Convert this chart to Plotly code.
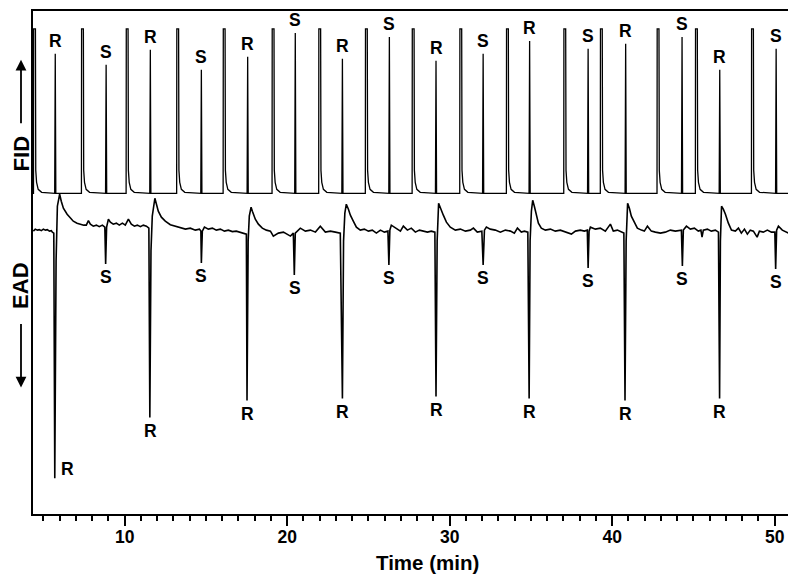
import plotly.graph_objects as go

# labelled peaks (enantiomers), retention time in min
rs_time = [5.73, 8.86, 11.58, 14.72, 17.57, 20.50, 23.40, 26.29,
           29.16, 32.06, 34.92, 38.52, 40.83, 44.30, 46.62, 50.09]
rs_label = ["R", "S"] * 8
# FID apex of each labelled peak and EAD minimum of its response (relative units)
fid_top = [462, 451, 466, 446, 459, 483, 457, 479,
           455, 462, 475, 467, 472, 479, 446, 467]
ead_bottom = [36, 251, 97, 252, 114, 240, 116, 250,
              118, 250, 116, 247, 114, 249, 116, 246]

# off-scale FID peaks of the other compounds
std_time = [4.39, 7.34, 10.09, 13.20, 16.06, 19.07, 21.94, 24.81,
            27.69, 30.62, 33.49, 37.02, 39.27, 42.76, 45.12, 48.57]
std_top = 487
std_tail_dt = [0.12, 0.14, 0.19, 0.29, 0.50]
std_tail_y = [487, 345, 333, 326, 323]
fid_base = 322

ead_time = [
    4.38, 4.50, 4.63, 4.75, 4.87, 5.00, 5.12, 5.24, 5.37, 5.49, 5.55,
    5.64, 5.70, 5.78, 5.86, 6.00, 6.10, 6.23, 6.46, 6.66, 6.84, 7.07, 7.27, 7.48,
    7.64, 7.77, 7.89, 8.07, 8.26, 8.44, 8.63, 8.78,
    8.83, 8.89, 9.00, 9.12, 9.30, 9.49, 9.67, 9.86, 10.04, 10.23, 10.41, 10.60, 10.78, 10.97, 11.15, 11.34, 11.49,
    11.55, 11.62, 11.70, 11.86, 11.95, 12.07, 12.26, 12.50, 12.81, 13.12, 13.43, 13.74, 14.04, 14.35, 14.60, 14.69,
    14.72, 14.78, 14.91, 15.15, 15.40, 15.64, 15.89, 16.14, 16.38, 16.63, 16.87, 17.12, 17.37, 17.49,
    17.53, 17.60, 17.67, 17.78, 17.86, 18.04, 18.23, 18.47, 18.72, 18.97, 19.15, 19.46, 19.77, 20.01, 20.20, 20.38,
    20.44, 20.50, 20.81, 21.12, 21.43, 21.74, 22.04, 22.35, 22.66, 22.97, 23.27,
    23.40, 23.47, 23.55, 23.64, 23.77, 23.89, 24.07, 24.26, 24.50, 24.75, 25.00, 25.24, 25.49, 25.74, 25.98, 26.20,
    26.26, 26.32, 26.41, 26.66, 26.97, 27.15, 27.40, 27.64, 27.89, 28.14, 28.38, 28.63, 28.87, 29.09,
    29.16, 29.23, 29.32, 29.43, 29.61, 29.80, 30.04, 30.35, 30.66, 30.97, 31.27, 31.46, 31.70, 31.98,
    32.06, 32.14, 32.26, 32.50, 32.81, 33.12, 33.43, 33.74, 33.98, 34.17, 34.41, 34.60, 34.81,
    34.89, 34.95, 35.03, 35.11, 35.21, 35.34, 35.46, 35.64, 35.89, 36.20, 36.50, 36.81, 37.12, 37.49, 37.74, 38.04, 38.29, 38.47,
    38.52, 38.58, 38.66, 38.97, 39.27, 39.58, 39.89, 40.07, 40.32, 40.57, 40.72,
    40.79, 40.86, 40.95, 41.06, 41.18, 41.37, 41.55, 41.80, 41.98, 42.17, 42.41, 42.66, 42.97, 43.27, 43.58, 43.89, 44.26,
    44.32, 44.38, 44.57, 44.81, 45.06, 45.30, 45.46, 45.53, 45.61, 45.86, 46.10, 46.35, 46.54,
    46.61, 46.66, 46.73, 46.84, 46.97, 47.15, 47.34, 47.58, 47.77, 47.95, 48.14, 48.32, 48.50, 48.69, 48.92, 49.06, 49.30, 49.55, 49.80, 50.01,
    50.06, 50.12, 50.23, 50.47, 50.66, 50.84,
]
ead_signal = [
    284, 286, 285, 285.5, 284.5, 286, 285, 285.5, 284, 284.5, 283,
    282, 36, 254, 309, 321, 314, 307, 301, 297, 294, 292, 291, 290,
    290, 294.5, 291, 289, 290, 288.5, 290, 288,
    251, 288, 296, 293, 291, 292, 290, 292, 290, 296, 291, 289, 290, 288.5, 290, 289, 287,
    97, 264, 299, 317, 311, 304, 298, 294, 290.5, 289, 287.5, 286, 287, 285, 286, 284,
    252, 284, 288, 286, 287, 285, 286, 284, 285, 283.5, 284, 283, 282, 281,
    114, 274, 299, 308, 304, 296, 291, 287, 285, 284, 279, 282, 283, 281, 279, 282,
    240, 282, 287, 284, 285, 283, 289, 283, 284, 283, 282,
    116, 274, 302, 311, 306, 300, 294, 288, 285, 286, 284, 285, 282, 285, 283, 284,
    250, 285, 290, 287, 284, 289, 285, 287, 283, 285, 284, 283, 284, 283,
    118, 274, 312, 307, 300, 293, 288, 285, 286, 284, 285, 287, 283, 284,
    250, 285, 288, 286, 285, 283, 285, 284, 282, 287, 283, 284, 283,
    116, 274, 304, 315, 309, 300, 292, 287, 285, 286, 284, 285, 283, 281, 284, 285, 284, 285,
    247, 284, 288, 286, 287, 284, 291, 284, 285, 283, 282,
    114, 274, 312, 307, 299, 292, 287, 285, 284, 289, 284, 283, 282, 283, 285, 284, 285,
    249, 285, 289, 286, 287, 284, 285, 278, 285, 286, 284, 285, 283,
    116, 274, 309, 306, 301, 292, 285, 284, 287, 282, 286, 281, 285, 284, 278, 284, 283, 285, 283, 283,
    246, 285, 289, 285, 283, 282,
]
assert len(ead_time) == len(ead_signal)

# build the FID trace from the peak tables
pts = [(4.36, fid_base)]
for t in std_time:
    pts.append((t, fid_base))
    pts.append((t + 0.01, std_top))
    for dt, v in zip(std_tail_dt, std_tail_y):
        pts.append((t + dt, v))
for t, top in zip(rs_time, fid_top):
    pts += [(t - 0.035, fid_base), (t, top), (t + 0.035, fid_base)]
pts.append((50.84, fid_base))
pts.sort()
fid_time = [p[0] for p in pts]
fid_signal = [p[1] for p in pts]

sans = "Liberation Sans, Arial, sans-serif"
lbl_font = dict(family=sans, size=17.5, color="black", weight="bold")

fig = go.Figure()
fig.add_trace(go.Scatter(x=fid_time, y=fid_signal, mode="lines",
                         line=dict(color="black", width=1.3), showlegend=False))
fig.add_trace(go.Scatter(x=ead_time, y=ead_signal, mode="lines",
                         line=dict(color="black", width=1.6), showlegend=False))

# R / S labels above the FID peaks and below the EAD responses
for t, lab, top in zip(rs_time, rs_label, fid_top):
    fig.add_annotation(x=t, y=top + 13, text=lab, showarrow=False, font=lbl_font,
                       xanchor="center", yanchor="middle")
for i, (t, lab, bot) in enumerate(zip(rs_time, rs_label, ead_bottom)):
    if i == 0:
        fig.add_annotation(x=t, y=bot + 9, xshift=12, text=lab, showarrow=False, font=lbl_font,
                           xanchor="center", yanchor="middle")
    else:
        fig.add_annotation(x=t, y=bot - 13.5, text=lab, showarrow=False, font=lbl_font,
                           xanchor="center", yanchor="middle")

# detector names with arrows, in the left margin
side_x = -0.0159
side_font = dict(family=sans, size=22, color="black", weight="bold")
fig.add_annotation(xref="paper", x=side_x, y=362, text="FID", textangle=-90, borderpad=0,
                   showarrow=False, font=side_font, xanchor="center", yanchor="middle")
fig.add_annotation(xref="paper", x=side_x, y=229, text="EAD", textangle=-90, borderpad=0,
                   showarrow=False, font=side_font, xanchor="center", yanchor="middle")
fig.add_annotation(xref="paper", x=side_x, y=456, text="", showarrow=True,
                   ax=0, ay=65, arrowhead=2, arrowsize=1.2, arrowwidth=1.8, arrowcolor="black")
fig.add_annotation(xref="paper", x=side_x, y=127, text="", showarrow=True,
                   ax=0, ay=-65, arrowhead=2, arrowsize=1.2, arrowwidth=1.8, arrowcolor="black")

fig.add_annotation(xref="paper", yref="paper", x=0.5225, y=-0.097, text="Time (min)",
                   showarrow=False, xanchor="center", yanchor="middle",
                   font=dict(family=sans, size=20.5, color="black", weight="bold"))

fig.update_xaxes(range=[4.36, 50.82], showline=True, linecolor="black", linewidth=1.8, mirror=True,
                 ticks="outside", tick0=0, dtick=10, ticklen=10, tickwidth=2, tickcolor="black",
                 minor=dict(ticks="outside", dtick=1, ticklen=5, tickwidth=1.6, tickcolor="black"),
                 ticklabelstandoff=-4, showgrid=False, zeroline=False, tickfont=lbl_font)
fig.update_yaxes(range=[0, 505], showline=True, linecolor="black", linewidth=1.8, mirror=True,
                 showticklabels=False, ticks="", showgrid=False, zeroline=False)
# the page body adds 8 px of margin, so the figure is 8 px smaller
fig.update_layout(width=788, height=576, margin=dict(l=25, r=8, t=1, b=70),
                  plot_bgcolor="white", paper_bgcolor="white")

fig.write_html("out.html")
